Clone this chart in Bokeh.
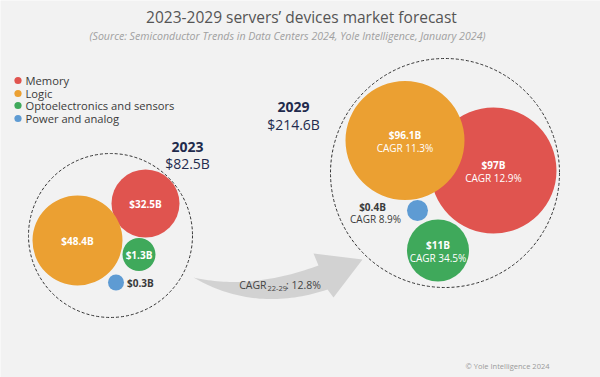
import numpy as np
from bokeh.plotting import figure
from bokeh.models import Range1d, ColumnDataSource
from bokeh.core.properties import value
from bokeh.embed import file_html
from bokeh.resources import INLINE

# ---------------- data ----------------
categories = ["Memory", "Logic", "Optoelectronics and sensors", "Power and analog"]
values_2023 = [32.5, 48.4, 1.3, 0.3]
values_2029 = [97, 96.1, 11, 0.4]
cagr_2029 = [12.9, 11.3, 34.5, 8.9]
total_2023 = 82.5
total_2029 = 214.6
total_cagr = 12.8
years = ["2023", "2029"]
colors = ["#e0544f", "#eba032", "#3fa95b", "#5e9bd3"]

title = "2023-2029 servers\u2019 devices market forecast"
subtitle = "(Source: Semiconductor Trends in Data Centers 2024, Yole Intelligence, January 2024)"
credit = "\u00a9 Yole Intelligence 2024"

# ---------------- layout (pixel positions / sizes) ----------------
pos_2023 = [(145, 203, 34), (77, 240, 45), (138.5, 254, 16.5), (115.5, 282, 8)]
pos_2029 = [(493, 170, 63), (404.5, 140, 59.5), (437.5, 250, 31), (417, 210, 10.5)]
outer_2023 = (110, 235, 82)
outer_2029 = (444.5, 172.5, 114.5)
FONT = value("Open Sans")
BG = "#f2f2f2"
NAVY = "#1f2b4d"
DARK = "#3a3a3a"


def fmt(v):
    return "${:g}B".format(v)


p = figure(width=600, height=377, output_backend="svg", toolbar_location=None,
           x_range=Range1d(0, 600), y_range=Range1d(377, 0),
           min_border=0, background_fill_color=BG, border_fill_color=BG)
p.axis.visible = False
p.grid.visible = False
p.outline_line_color = None

# arrow (decorative)
def qbez(a, c, b, n=40):
    t = np.linspace(0, 1, n)[:, None]
    a, c, b = map(np.array, (a, c, b))
    return (1 - t) ** 2 * a + 2 * (1 - t) * t * c + t ** 2 * b

tail = (193, 277)
top = qbez(tail, (250, 290), (318, 265))
bot = qbez((327, 289), (255, 313), tail)
head = np.array([(313, 253), (362, 259), (333, 297)])
poly = np.vstack([top, head, bot])
p.patch(poly[:, 0], poly[:, 1], fill_color="#d2d2d2", line_color=None)

# dashed outer circles
p.circle(x=[outer_2023[0], outer_2029[0]], y=[outer_2023[1], outer_2029[1]],
         radius=[outer_2023[2], outer_2029[2]], fill_alpha=0,
         line_color="#333333", line_dash="3 2", line_width=1)

# bubbles
src23 = ColumnDataSource(dict(x=[q[0] for q in pos_2023], y=[q[1] for q in pos_2023],
                              r=[q[2] for q in pos_2023], c=colors,
                              lab=[fmt(v) for v in values_2023]))
src29 = ColumnDataSource(dict(x=[q[0] for q in pos_2029], y=[q[1] for q in pos_2029],
                              r=[q[2] for q in pos_2029], c=colors,
                              lab=[fmt(v) for v in values_2029],
                              cg=["CAGR {:g}%".format(c) for c in cagr_2029]))
p.circle(x="x", y="y", radius="r", fill_color="c", line_color=None, source=src23)
p.circle(x="x", y="y", radius="r", fill_color="c", line_color=None, source=src29)

# 2023 labels inside (first three)
for i in range(3):
    p.text(x=[pos_2023[i][0]], y=[pos_2023[i][1]], text=[fmt(values_2023[i])],
           text_color="white", text_font=FONT, text_font_size="10px", text_font_style="bold",
           text_align="center", text_baseline="middle")
# smallest 2023 bubble label outside
p.text(x=[pos_2023[3][0] + pos_2023[3][2] + 3], y=[pos_2023[3][1]], text=[fmt(values_2023[3])],
       text_color=DARK, text_font=FONT, text_font_size="10px", text_font_style="bold",
       text_align="left", text_baseline="middle")

# 2029 labels inside
for i in range(3):
    x0, y0 = pos_2029[i][0], pos_2029[i][1]
    p.text(x=[x0], y=[y0 - 6], text=[fmt(values_2029[i])], text_color="white", text_font=FONT,
           text_font_size="10px", text_font_style="bold", text_align="center", text_baseline="middle")
    p.text(x=[x0], y=[y0 + 7], text=["CAGR {:g}%".format(cagr_2029[i])], text_color="white",
           text_font=FONT, text_font_size="10px", text_align="center", text_baseline="middle")
# smallest 2029 label outside
bx, by, br = pos_2029[3]
p.text(x=[bx - 45], y=[by - 4], text=[fmt(values_2029[3])], text_color=DARK, text_font=FONT,
       text_font_size="10px", text_font_style="bold", text_align="center", text_baseline="middle")
p.text(x=[bx - 42], y=[by + 8], text=["CAGR {:g}%".format(cagr_2029[3])], text_color=DARK,
       text_font=FONT, text_font_size="10px", text_align="center", text_baseline="middle")

# year / totals
p.text(x=[187, 293], y=[146, 106], text=years, text_color=NAVY, text_font=FONT,
       text_font_size="14px", text_font_style="bold", text_align="center", text_baseline="middle")
p.text(x=[187, 293], y=[163, 124], text=[fmt(total_2023), fmt(total_2029)], text_color=NAVY,
       text_font=FONT, text_font_size="14px", text_align="center", text_baseline="middle")

# CAGR on arrow
p.text(x=[266], y=[284], text=["CAGR"], text_color="#444444", text_font=FONT,
       text_font_size="10.5px", text_align="right", text_baseline="middle")
p.text(x=[267], y=[288], text=["22-29"], text_color="#444444", text_font=FONT,
       text_font_size="7.5px", text_align="left", text_baseline="middle")
p.text(x=[285.5], y=[284], text=[": {:g}%".format(total_cagr)], text_color="#444444", text_font=FONT,
       text_font_size="10.5px", text_align="left", text_baseline="middle")

# legend
ly = [80, 93, 105, 118]
p.circle(x=[17.5] * 4, y=ly, radius=3.6, fill_color=colors, line_color=None)
p.text(x=[25] * 4, y=ly, text=categories, text_color=DARK, text_font=FONT,
       text_font_size="11.2px", text_align="left", text_baseline="middle")

# titles
p.text(x=[301], y=[16], text=[title], text_color="#555555", text_font=FONT,
       text_font_size="15.5px", text_align="center", text_baseline="middle")
p.text(x=[287], y=[35], text=[subtitle], text_color="#a0a0a0", text_font=FONT,
       text_font_size="10.6px", text_font_style="italic", text_align="center", text_baseline="middle")
p.text(x=[507], y=[365], text=[credit], text_color="#9a9a9a", text_font=FONT,
       text_font_size="7.5px", text_align="center", text_baseline="middle")

open("out.html", "w").write(file_html(p, INLINE))
